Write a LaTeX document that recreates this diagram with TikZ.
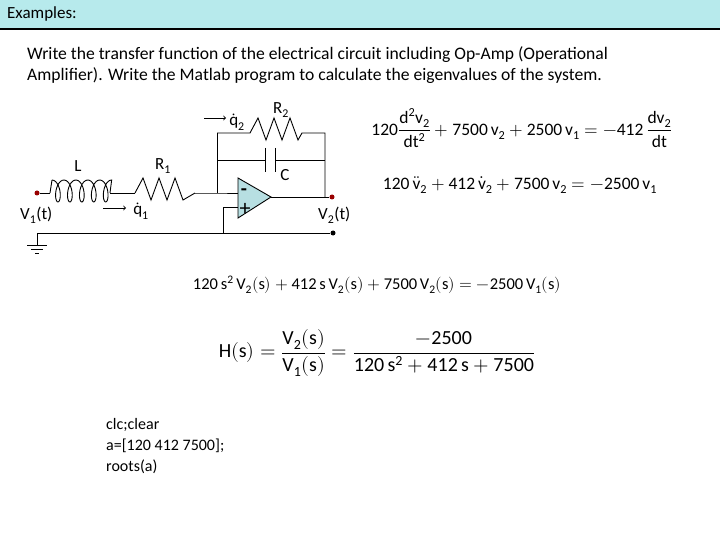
\documentclass[tikz,border=0pt]{standalone}
\usepackage{fontspec}
\setmainfont{Carlito}
\usepackage{amsmath}
\usepackage{unicode-math}
\setmathfont{Latin Modern Math}
\setmathfont[range=up]{Carlito}
\setmathfont[range={it}]{Carlito}
\begin{document}
\begin{tikzpicture}[x=1pt,y=-1pt,
  wire/.style={line width=0.9pt},
  term/.style={circle,fill=red!60!black,inner sep=0pt,minimum size=5pt},
  lbl/.style={font=\fontsize{17}{19}\selectfont,inner sep=0pt},
  txt/.style={font=\fontsize{17.6}{21}\selectfont,inner sep=0pt,align=left},
  eq/.style={font=\fontsize{17.5}{20}\selectfont,inner sep=0pt}]
\useasboundingbox (0,0) rectangle (720,540);
\fill[fill={rgb,255:red,183;green,234;blue,236}] (0,0) rectangle (720,28);
\draw[line width=2pt] (0,29) -- (720,29);
\node[lbl,anchor=west] (title) at (7,14) {Examples:};
\node[txt,anchor=north west] (task) at (27,46) {Write the transfer function of the electrical circuit including Op-Amp (Operational\\Amplifier). Write the Matlab program to calculate the eigenvalues of the system.};
% circuit coordinates
\node[term] (v1) at (37,193) {};
\coordinate (la) at (50,193); \coordinate (lb) at (110,193);
\coordinate (ra) at (135,193);
\coordinate (j) at (217,193);
\coordinate (jt) at (217,133); \coordinate (jc) at (217,160);
\coordinate (r2a) at (250,133); \coordinate (r2b) at (302,133);
\coordinate (ct) at (325,133); \coordinate (cc) at (325,160);
\coordinate (out) at (325,197);
\node[term] (v2) at (332,197) {};
\node[circle,fill=black,inner sep=0pt,minimum size=5pt] (gr) at (333,233) {};
\coordinate (gl) at (37,233);
\coordinate (p) at (223,233);
% opamp
\draw[wire,fill={rgb,255:red,183;green,223;blue,226}] (238,178) -- (271,197) -- (238,218) -- cycle;
\node[font=\fontsize{20}{20}\selectfont\bfseries,inner sep=0pt] (minus) at (244,192) {-};
\node[font=\fontsize{22}{22}\selectfont,inner sep=0pt] (plus) at (245,209) {+};
% wires
\draw[wire] (v1) -- (la);
\draw[wire,smooth,samples=120,domain=3.1416:34.558] (la) -- (52,180) plot ({46+1.9*\x-5*sin(\x r)},{191+11*cos(\x r)}) -- (lb);
\draw[wire] (lb) -- (ra);
\draw[wire] (ra) -- ++(8,-15) -- ++(8,22) -- ++(8,-22) -- ++(8,22) -- ++(8,-22) -- ++(8,22) -- (195,193);
\draw[wire] (195,193) -- (j) -- (238,193);
\draw[wire] (jt) -- (j);
\draw[wire] (jt) -- (r2a) -- ++(8,-15) -- ++(8,22) -- ++(8,-22) -- ++(8,22) -- ++(8,-22) -- ++(8,22) -- (r2b) -- (ct) -- (out);
\draw[wire] (jc) -- (265,160) (265,148) -- (265,172) (275,148) -- (275,172) (275,160) -- (cc);
\draw[wire] (271,197) -- (v2);
\draw[wire] (238,207) -- (223,207) -- (p);
\draw[wire] (gl) -- (gr);
\draw[wire] (gl) -- (37,245) (27,245) -- (47,245) (31,249) -- (43,249) (35,253) -- (39,253);
% labels
\node[lbl] (lL) at (78,166) {L};
\node[lbl] (lR1) at (163,166) {R$_1$};
\node[lbl] (lR2) at (281,110) {R$_2$};
\node[lbl] (lC) at (285,175) {C};
\node[lbl,anchor=west] (lV1) at (20,215) {V$_1$(t)};
\node[lbl,anchor=west] (lV2) at (318,215) {V$_2$(t)};
\node[lbl] (q1) at (141,211) {$\dot{\mathrm q}_1$};
\node[lbl] (q2) at (237,122) {$\dot{\mathrm q}_2$};
\draw[->,wire] (103,208) -- (126,208);
\draw[->,wire] (204,118) -- (226,118);
% equations
\node[eq] (e1) at (522,128) {$120\dfrac{\mathrm{d^2v_2}}{\mathrm{dt^2}}+7500\,\mathrm{v_2}+2500\,\mathrm{v_1}=-412\,\dfrac{\mathrm{dv_2}}{\mathrm{dt}}$};
\node[eq] (e2) at (520,185) {$120\,\ddot{\mathrm v}_2+412\,\dot{\mathrm v}_2+7500\,\mathrm{v_2}=-2500\,\mathrm{v_1}$};
\node[font=\fontsize{16.5}{19}\selectfont,inner sep=0pt] (e3) at (377,285) {$120\,\mathrm{s^2\,V_2(s)}+412\,\mathrm{s\,V_2(s)}+7500\,\mathrm{V_2(s)}=-2500\,\mathrm{V_1(s)}$};
\node[font=\fontsize{20}{24}\selectfont,inner sep=0pt] (hs) at (377,353) {$\mathrm{H(s)}=\dfrac{\mathrm{V_2(s)}}{\mathrm{V_1(s)}}=\dfrac{-2500}{120\,\mathrm{s^2}+412\,\mathrm{s}+7500}$};
\node[txt,anchor=north west,font=\fontsize{16}{21}\selectfont] (code) at (106,418) {clc;clear\\a=[120 412 7500];\\roots(a)};
\end{tikzpicture}
\end{document}
